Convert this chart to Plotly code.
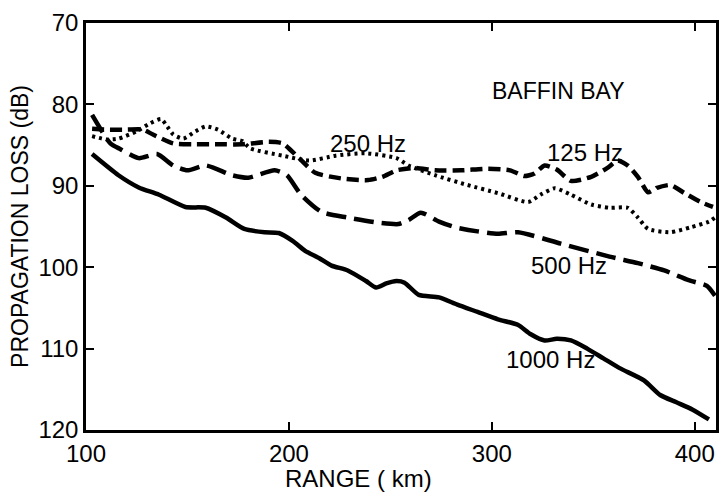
import plotly.graph_objects as go

# 1000 Hz (solid)
x_1000 = [103, 116, 126, 136, 149, 159, 169, 178, 188, 195, 202, 208, 215, 221, 229, 238, 243, 248, 253, 257, 264, 274, 283, 293, 303, 313, 319, 326, 332, 339, 347, 355, 363, 375, 383, 391, 399, 407]
y_1000 = [86.1, 88.7, 90.2, 91.1, 92.6, 92.7, 93.9, 95.3, 95.7, 95.8, 96.8, 98.0, 98.9, 99.8, 100.4, 101.7, 102.5, 102.0, 101.7, 101.9, 103.4, 103.7, 104.6, 105.5, 106.4, 107.1, 108.2, 109.0, 108.8, 109.0, 110.0, 111.2, 112.4, 113.9, 115.7, 116.6, 117.5, 118.7]

# 500 Hz (long dash)
x_500 = [103, 112, 117, 126, 135, 143, 150, 159, 172, 180, 193, 199, 206, 216, 229, 243, 254, 259, 265, 274, 282, 293, 303, 313, 334, 358, 372, 385, 397, 406, 410]
y_500 = [81.3, 84.8, 85.5, 86.6, 86.1, 87.5, 88.1, 87.5, 88.7, 89.0, 88.1, 88.7, 91.1, 93.2, 93.9, 94.5, 94.7, 94.2, 93.3, 94.4, 95.1, 95.6, 95.9, 95.7, 97.1, 98.7, 99.5, 100.4, 101.6, 102.3, 103.5]

# 125 Hz (short dash)
x_125 = [103, 110, 120, 128, 133, 143, 153, 165, 177, 190, 197, 205, 213, 226, 239, 246, 253, 262, 272, 285, 298, 309, 316, 321, 326, 332, 339, 349, 357, 362, 367, 372, 377, 381, 388, 395, 403, 409]
y_125 = [83.0, 83.1, 83.1, 83.1, 83.7, 84.8, 84.9, 84.9, 84.9, 84.6, 84.8, 86.6, 88.4, 89.1, 89.3, 88.9, 88.1, 87.8, 88.1, 88.1, 87.9, 88.1, 88.8, 88.5, 87.5, 88.0, 89.4, 88.9, 87.8, 86.9, 87.5, 88.9, 90.8, 90.3, 89.9, 90.9, 92.0, 92.6]

# 250 Hz (dotted)
x_250 = [103, 110, 116, 125, 131, 137, 140, 143, 148, 154, 159, 165, 172, 177, 181, 197, 210, 223, 238, 253, 259, 272, 288, 303, 318, 324, 331, 339, 349, 358, 367, 372, 377, 388, 398, 407, 410]
y_250 = [83.9, 84.3, 84.2, 83.3, 82.4, 81.8, 82.7, 83.7, 84.2, 83.3, 82.7, 83.1, 84.2, 84.5, 85.4, 86.3, 86.9, 86.3, 86.0, 86.6, 87.5, 88.7, 89.9, 90.9, 92.0, 91.1, 90.3, 91.1, 92.3, 92.7, 92.7, 93.9, 95.3, 95.7, 95.1, 94.4, 93.9]

x_ticks = [100, 200, 300, 400]
y_ticks = [70, 80, 90, 100, 110, 120]

FONT = "Liberation Sans"

fig = go.Figure()
fig.add_trace(go.Scatter(x=x_1000, y=y_1000, mode="lines", line=dict(color="black", width=4.5, shape="spline", smoothing=0.6), showlegend=False))
fig.add_trace(go.Scatter(x=x_500, y=y_500, mode="lines", line=dict(color="black", width=4.5, dash="20px,8px", shape="spline", smoothing=0.6), showlegend=False))
fig.add_trace(go.Scatter(x=x_125, y=y_125, mode="lines", line=dict(color="black", width=4.5, dash="12px,6px", shape="spline", smoothing=0.6), showlegend=False))
fig.add_trace(go.Scatter(x=x_250, y=y_250, mode="lines", line=dict(color="black", width=4, dash="3px,4px", shape="spline", smoothing=0.6), showlegend=False))

labels = [
    (333, 78.3, "BAFFIN BAY", 23),
    (239, 84.8, "250 Hz", 24),
    (346, 85.9, "125 Hz", 24),
    (338, 99.8, "500 Hz", 24),
    (329, 111.3, "1000 Hz", 24),
]
for x, y, t, s in labels:
    fig.add_annotation(x=x, y=y, text=t, showarrow=False, font=dict(family=FONT, size=s, color="black"))

fig.add_annotation(xref="paper", yref="paper", x=0.433, y=-0.118, text="RANGE ( km)",
                   showarrow=False, xanchor="center", yanchor="middle",
                   font=dict(family=FONT, size=24, color="black"))

axis_common = dict(
    showline=True, linecolor="black", linewidth=2.5, mirror="ticks",
    ticks="inside", ticklen=8, tickwidth=2, tickcolor="black",
    showgrid=False, zeroline=False,
    tickfont=dict(family=FONT, size=24, color="black"),
)
fig.update_xaxes(range=[100, 410.5], tickvals=x_ticks, **axis_common)
fig.update_yaxes(range=[120, 70], tickvals=y_ticks,
                 title=dict(text="PROPAGATION LOSS (dB)", font=dict(family=FONT, size=23, color="black"), standoff=4),
                 **axis_common)

fig.update_layout(
    width=728, height=497,
    margin=dict(l=86, r=9, t=14, b=67),
    plot_bgcolor="white", paper_bgcolor="white",
)
fig.write_html("out.html")
